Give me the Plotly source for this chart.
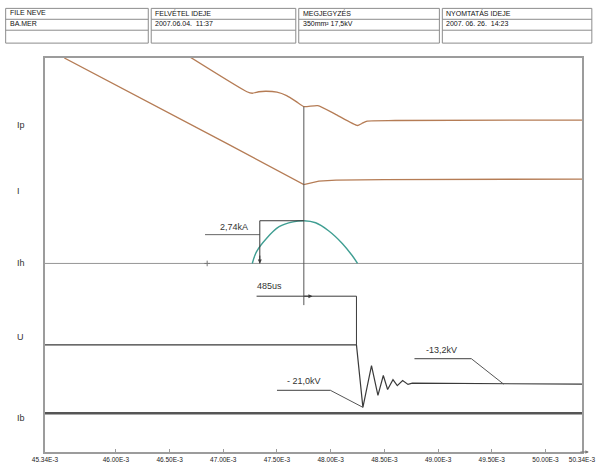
import plotly.graph_objects as go

# ---------------- data ----------------
# time axis (E-3 s)
X_TICKS = [45.34, 46.00, 46.50, 47.00, 47.50, 48.00, 48.50, 49.00, 49.50, 50.00, 50.34]
X_TICK_TEXT = ["45.34E-3", "46.00E-3", "46.50E-3", "47.00E-3", "47.50E-3", "48.00E-3",
               "48.50E-3", "49.00E-3", "49.50E-3", "50.00E-3", "50.34E-3"]

CHANNELS = ["Ip", "I", "Ih", "U", "Ib"]

# Ip channel
T_IP = [46.69, 47.22, 47.27, 47.33, 47.40, 47.50, 47.59, 47.68, 47.75, 47.88, 48.05, 48.25, 48.29, 48.34, 48.60, 50.34]
IP = [12.6, 5.6, 5.3, 5.6, 5.7, 5.5, 4.8, 3.6, 2.6, 2.8, 1.0, -1.2, -0.8, -0.3, -0.2, -0.1]

# I channel
T_I = [45.52, 46.30, 47.04, 47.75, 47.82, 47.89, 48.05, 48.50, 50.34]
I = [25.4, 16.6, 8.1, -0.1, 0.2, 0.6, 0.8, 0.9, 1.0]

# Ih channel (kA)
T_IH_BASE = [45.34, 50.34]
IH_BASE = [0, 0]
T_IH = [47.27, 47.31, 47.40, 47.52, 47.65, 47.75, 47.86, 47.98, 48.11, 48.20, 48.25]
IH = [0, 0.76, 1.59, 2.36, 2.67, 2.74, 2.61, 2.10, 1.27, 0.51, 0]
T_IH_MARK = [46.85]
IH_MARK = [0]

# U channel (kV)
T_U = [45.34, 48.24, 48.30, 48.38, 48.44, 48.49, 48.53, 48.58, 48.62, 48.67, 48.72, 48.76, 50.34]
U = [0, 0, -21.0, -7.0, -17.0, -10.3, -15.0, -11.7, -13.7, -12.0, -13.3, -12.9, -13.2]

# Ib channel
T_IB = [45.34, 50.34]
IB = [0, 0]

# measured values
IH_PEAK = 2.74        # kA
T_IH_PEAK = 47.75
T_IH_START = 47.34
U_MIN = -21.0         # kV
T_U_MIN = 48.30
U_END = -13.2         # kV
T_U_END = 49.61
T_CURSOR = 47.75
T_STEP = 48.24        # cursor + 485 us

HEADER_TITLES = ["FILE NEVE", "FELVÉTEL IDEJE", "MEGJEGYZÉS", "NYOMTATÁS IDEJE"]
HEADER_VALUES = ["BA.MER", "2007.06.04.  11:37", "350mm² 17,5kV", "2007. 06. 26.  14:23"]

# ---------------- layout geometry ----------------
W, H = 608, 475
L, R, T, B = 45, 591, 58, 455

def pxx(p):
    return (p - L) / (R - L)

def pxy(p):
    return (B - p) / (B - T)

# (row pixel of zero, pixels per unit) for each channel axis
SCALE = {"Ip": (120, 5.0), "I": (185, 5.0), "Ih": (265, 15.7), "U": (347, 3.0), "Ib": (416, 10.0)}

def rng(name):
    z, s = SCALE[name]
    return [(z - B) / s, (z - T) / s]

BROWN = "#b57c55"
TEAL = "#3f9e92"
DARK = "#3a3a3a"
GRAY = "#9c9c9c"
FONT = "Liberation Sans Narrow, Liberation Sans, Arial"

fig = go.Figure()

fig.add_trace(go.Scatter(x=T_IP, y=IP, mode="lines", yaxis="y", line_shape="spline",
                         line=dict(color=BROWN, width=1.3, smoothing=0.5)))
fig.add_trace(go.Scatter(x=T_I, y=I, mode="lines", yaxis="y2",
                         line=dict(color=BROWN, width=1.3)))
fig.add_trace(go.Scatter(x=T_IH_BASE, y=IH_BASE, mode="lines", yaxis="y3",
                         line=dict(color="#8a8a8a", width=0.9)))
fig.add_trace(go.Scatter(x=T_IH, y=IH, mode="lines", yaxis="y3", line_shape="spline",
                         line=dict(color=TEAL, width=1.4)))
fig.add_trace(go.Scatter(x=T_IH_MARK, y=IH_MARK, mode="markers", yaxis="y3",
                         marker=dict(symbol="cross-thin", size=4, line=dict(color="#777", width=1))))
fig.add_trace(go.Scatter(x=T_U, y=U, mode="lines", yaxis="y4",
                         line=dict(color=DARK, width=1.2)))
fig.add_trace(go.Scatter(x=T_IB, y=IB, mode="lines", yaxis="y5",
                         line=dict(color="#555555", width=2.6)))

shapes = []
ann = []

def seg(x0, y0, x1, y1, yref, width=1.0, color=DARK):
    shapes.append(dict(type="line", xref="x", yref=yref, x0=x0, y0=y0, x1=x1, y1=y1,
                       line=dict(color=color, width=width)))

# cursor line
zU, sU = SCALE["U"]
seg(T_CURSOR, (zU - 107) / sU, T_CURSOR, (zU - 307) / sU, "y4", 1.0, "#555")

# 2,74kA dimension
zH, sH = SCALE["Ih"]
lbl_h = (zH - 236) / sH
seg(46.83, lbl_h, T_IH_START, lbl_h, "y3", 1.0, "#666")
seg(T_IH_START, 0, T_IH_START, IH_PEAK, "y3")
seg(T_IH_START, IH_PEAK, T_IH_PEAK, IH_PEAK, "y3")
ann.append(dict(x=47.10, y=lbl_h, xref="x", yref="y3", text="2,74kA", showarrow=False,
                yanchor="bottom", yshift=1, font=dict(size=9, color="#333", family=FONT)))
ann.append(dict(x=T_IH_START, y=0, ax=T_IH_START, ay=0.6, xref="x", yref="y3", axref="x", ayref="y3",
                text="", showarrow=True, arrowhead=2, arrowsize=0.8, arrowwidth=1, arrowcolor=DARK))

# 485us dimension
y485 = (zU - 298) / sU
seg(47.31, y485, T_STEP, y485, "y4")
seg(T_STEP, y485, T_STEP, 0, "y4")
ann.append(dict(x=47.43, y=y485, xref="x", yref="y4", text="485us", showarrow=False,
                yanchor="bottom", yshift=3, font=dict(size=9, color="#333", family=FONT)))
ann.append(dict(x=47.83, y=y485, ax=47.74, ay=y485, xref="x", yref="y4", axref="x", ayref="y4",
                text="", showarrow=True, arrowhead=2, arrowsize=0.8, arrowwidth=1, arrowcolor=DARK))

# -21,0kV label
y21 = (zU - 393) / sU
seg(47.50, y21, 48.00, y21, "y4", 1.2, "#666")
seg(48.00, y21, T_U_MIN, U_MIN, "y4", 1.0, "#555")
ann.append(dict(x=47.75, y=y21, xref="x", yref="y4", text="- 21,0kV", showarrow=False,
                yanchor="bottom", yshift=2, font=dict(size=9, color="#333", family=FONT)))

# -13,2kV label
y13 = (zU - 361) / sU
seg(48.78, y13, 49.31, y13, "y4", 1.2, "#666")
seg(49.31, y13, T_U_END, U_END, "y4", 1.0, "#555")
ann.append(dict(x=49.03, y=y13, xref="x", yref="y4", text="-13,2kV", showarrow=False,
                yanchor="bottom", yshift=2, font=dict(size=9, color="#333", family=FONT)))

# channel names on the left
LABEL_ROWS = [118, 185, 265, 346, 428]
for name, row in zip(CHANNELS, LABEL_ROWS):
    ann.append(dict(x=pxx(15), y=pxy(row), xref="paper", yref="paper", text=name,
                    showarrow=False, font=dict(size=9, color="#333", family=FONT)))

# arrow at the end of the time axis
ann.append(dict(x=pxx(598), y=0, ax=-10, ay=0, xref="paper", yref="paper",
                text="", showarrow=True, arrowhead=2,
                arrowsize=0.7, arrowwidth=1, arrowcolor="#777"))

# header table
COLS = [(5, 150), (153, 300), (303, 446), (449, 601)]
ROWS = [8, 19, 30, 43]
for (c0, c1), title, value in zip(COLS, HEADER_TITLES, HEADER_VALUES):
    shapes.append(dict(type="rect", xref="paper", yref="paper", x0=pxx(c0), x1=pxx(c1),
                       y0=pxy(ROWS[0]), y1=pxy(ROWS[-1]), line=dict(color="#8c8c8c", width=1)))
    for r in ROWS[1:-1]:
        shapes.append(dict(type="line", xref="paper", yref="paper", x0=pxx(c0), x1=pxx(c1),
                           y0=pxy(r), y1=pxy(r), line=dict(color="#8c8c8c", width=1)))
    ann.append(dict(x=pxx(c0 + 2), y=pxy((ROWS[0] + ROWS[1]) / 2), xref="paper", yref="paper",
                    text=title, showarrow=False, xanchor="left", yanchor="middle", yshift=1,
                    font=dict(size=7, color="#111", family=FONT)))
    ann.append(dict(x=pxx(c0 + 2), y=pxy((ROWS[1] + ROWS[2]) / 2), xref="paper", yref="paper",
                    text=value, showarrow=False, xanchor="left", yanchor="middle", yshift=1,
                    font=dict(size=7, color="#111", family=FONT)))

hidden = dict(visible=False, overlaying="y", showgrid=False, zeroline=False, fixedrange=True)

fig.update_layout(
    width=W, height=H,
    margin=dict(l=L, r=W - R, t=T, b=H - B),
    paper_bgcolor="white", plot_bgcolor="white",
    showlegend=False,
    font=dict(family=FONT, color="#333"),
    xaxis=dict(range=[45.34, 50.34], tickvals=X_TICKS, ticktext=X_TICK_TEXT,
               showgrid=False, zeroline=False, showline=True, linecolor=GRAY, linewidth=1.5,
               mirror=True, ticks="inside", ticklen=3, tickcolor=GRAY,
               tickfont=dict(size=6.5, color="#222", family=FONT)),
    yaxis=dict(range=rng("Ip"), showgrid=False, zeroline=False, showticklabels=False,
               showline=True, linecolor=GRAY, linewidth=2, mirror=True, ticks=""),
    yaxis2=dict(range=rng("I"), **hidden),
    yaxis3=dict(range=rng("Ih"), **hidden),
    yaxis4=dict(range=rng("U"), **hidden),
    yaxis5=dict(range=rng("Ib"), **hidden),
    shapes=shapes,
    annotations=ann,
)

fig.write_html("out.html")
